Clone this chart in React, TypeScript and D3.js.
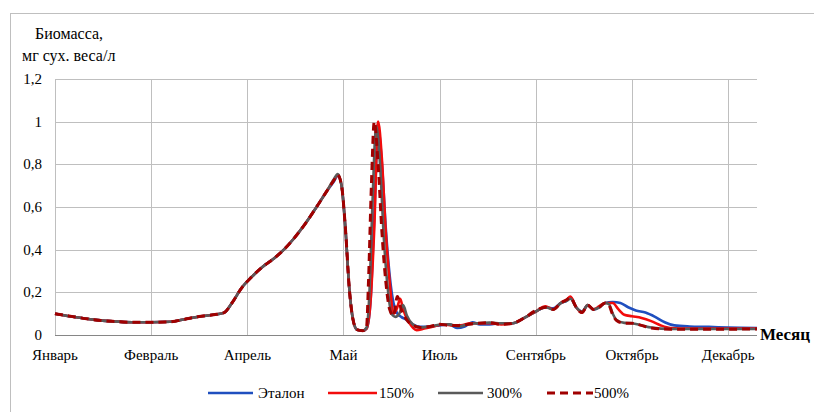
import React from "react";
import * as d3 from "d3";

const monthLabels = ["Январь", "Февраль", "Апрель", "Май", "Июль", "Сентябрь", "Октябрь", "Декабрь"];
const monthTickDays = [0, 50, 100, 150, 200, 250, 300, 350];
const yTicks = [0, 0.2, 0.4, 0.6, 0.8, 1, 1.2];

const etalon: [number, number][] = [
  [0, 0.1], [10, 0.085], [20, 0.072], [30, 0.064], [40, 0.06], [50, 0.06], [60, 0.062], [68, 0.075], [76, 0.088], [84, 0.097],
  [88, 0.105], [92, 0.15], [97, 0.22], [102, 0.27], [108, 0.32], [114, 0.36], [119, 0.4], [124, 0.45], [130, 0.52], [136, 0.6],
  [141, 0.67], [145, 0.72], [147, 0.745], [149, 0.7], [151, 0.5], [153, 0.22], [155, 0.07], [157, 0.025], [160, 0.02], [162, 0.03],
  [164, 0.15], [166, 0.55], [168, 0.97], [170, 0.8], [172, 0.5], [174, 0.28], [176, 0.15], [178, 0.1], [180, 0.085], [183, 0.07],
  [186, 0.05], [190, 0.038], [195, 0.04], [200, 0.045], [205, 0.05], [209, 0.033], [213, 0.04], [217, 0.06], [221, 0.05], [226, 0.05],
  [232, 0.055], [238, 0.055], [244, 0.08], [250, 0.11], [255, 0.13], [259, 0.125], [263, 0.15], [266, 0.16], [268, 0.175], [271, 0.13],
  [274, 0.11], [277, 0.14], [280, 0.12], [283, 0.13], [286, 0.15], [290, 0.155], [294, 0.15], [298, 0.13], [302, 0.115], [307, 0.105],
  [312, 0.085], [317, 0.06], [322, 0.045], [330, 0.04], [340, 0.038], [350, 0.035], [365, 0.033],
];

const pct150: [number, number][] = [
  [0, 0.1], [10, 0.085], [20, 0.072], [30, 0.064], [40, 0.06], [50, 0.06], [60, 0.062], [68, 0.075], [76, 0.088], [84, 0.097],
  [88, 0.105], [92, 0.15], [97, 0.22], [102, 0.27], [108, 0.32], [114, 0.36], [119, 0.4], [124, 0.45], [130, 0.52], [136, 0.6],
  [141, 0.67], [145, 0.725], [147, 0.75], [149, 0.7], [151, 0.5], [153, 0.22], [155, 0.07], [157, 0.025], [160, 0.02], [162, 0.03],
  [164, 0.15], [166, 0.5], [168, 1.0], [170, 0.82], [172, 0.48], [174, 0.25], [176, 0.1], [178, 0.13], [179.5, 0.17], [181, 0.12],
  [184, 0.06], [188, 0.023], [192, 0.03], [197, 0.04], [202, 0.05], [207, 0.045], [211, 0.045], [216, 0.055], [221, 0.055], [226, 0.055],
  [232, 0.05], [238, 0.055], [244, 0.08], [250, 0.11], [255, 0.135], [259, 0.12], [263, 0.15], [266, 0.165], [268, 0.18], [271, 0.13],
  [274, 0.105], [277, 0.14], [280, 0.12], [283, 0.135], [286, 0.15], [290, 0.15], [293, 0.12], [296, 0.095], [300, 0.088], [305, 0.08],
  [310, 0.065], [315, 0.045], [320, 0.033], [330, 0.03], [345, 0.03], [365, 0.03],
];

const pct300: [number, number][] = [
  [0, 0.1], [10, 0.085], [20, 0.072], [30, 0.064], [40, 0.06], [50, 0.06], [60, 0.062], [68, 0.075], [76, 0.088], [84, 0.097],
  [88, 0.105], [92, 0.15], [97, 0.22], [102, 0.27], [108, 0.32], [114, 0.36], [119, 0.4], [124, 0.45], [130, 0.52], [136, 0.6],
  [141, 0.67], [145, 0.73], [147, 0.755], [149, 0.7], [151, 0.5], [153, 0.22], [155, 0.07], [157, 0.025], [160, 0.02], [162, 0.035],
  [163.5, 0.2], [165, 0.6], [167, 0.98], [169, 0.8], [171, 0.45], [173, 0.22], [175, 0.1], [177, 0.085], [179, 0.1], [181, 0.14],
  [183, 0.09], [186, 0.05], [190, 0.035], [195, 0.04], [200, 0.048], [205, 0.05], [210, 0.04], [215, 0.05], [220, 0.055], [226, 0.058],
  [232, 0.055], [238, 0.055], [244, 0.08], [250, 0.11], [255, 0.13], [259, 0.12], [263, 0.15], [266, 0.16], [268, 0.17], [271, 0.13],
  [274, 0.11], [277, 0.14], [280, 0.12], [283, 0.13], [286, 0.15], [288, 0.145], [290, 0.1], [292, 0.07], [296, 0.057], [300, 0.055],
  [305, 0.045], [310, 0.035], [320, 0.028], [340, 0.028], [365, 0.028],
];

const pct500: [number, number][] = [
  [0, 0.1], [10, 0.085], [20, 0.072], [30, 0.064], [40, 0.06], [50, 0.06], [60, 0.062], [68, 0.075], [76, 0.088], [84, 0.097],
  [88, 0.105], [92, 0.15], [97, 0.22], [102, 0.27], [108, 0.32], [114, 0.36], [119, 0.4], [124, 0.45], [130, 0.52], [136, 0.6],
  [141, 0.67], [145, 0.725], [147, 0.75], [149, 0.7], [151, 0.5], [153, 0.22], [155, 0.07], [157, 0.025], [160, 0.02], [162, 0.04],
  [163, 0.25], [164.5, 0.7], [166, 1.0], [168, 0.8], [170, 0.48], [172, 0.25], [174, 0.12], [176, 0.09], [178, 0.18], [180, 0.12],
  [183, 0.07], [186, 0.045], [190, 0.035], [195, 0.04], [200, 0.05], [205, 0.045], [210, 0.045], [215, 0.05], [220, 0.055], [226, 0.058],
  [232, 0.05], [238, 0.055], [244, 0.08], [250, 0.115], [255, 0.13], [259, 0.12], [263, 0.15], [266, 0.165], [268, 0.175], [271, 0.13],
  [274, 0.105], [277, 0.14], [280, 0.12], [283, 0.13], [286, 0.15], [288, 0.14], [290, 0.095], [292, 0.068], [296, 0.055], [300, 0.055],
  [305, 0.045], [310, 0.033], [320, 0.027], [340, 0.027], [365, 0.028],
];

const seriesNames = ["Эталон", "150%", "300%", "500%"];
const seriesData = [etalon, pct150, pct300, pct500];
const seriesColors = ["#1F4FBF", "#F20C0C", "#5A5A5A", "#A00000"];
const seriesDash = [null, null, null, "8,5"];

const FONT = '"Liberation Serif", "Times New Roman", Tinos, serif';

export default function App() {
  const W = 814;
  const H = 412;
  const left = 55, right = 757, top = 79, bottom = 335;
  const x = d3.scaleLinear().domain([0, 365]).range([left, right]);
  const y = d3.scaleLinear().domain([0, 1.2]).range([bottom, top]);
  const line = d3
    .line<[number, number]>()
    .x((d) => x(d[0]))
    .y((d) => y(d[1]))
    .curve(d3.curveMonotoneX);
  const fmt = (v: number) => (v === 0 ? "0" : v === 1 ? "1" : String(+v.toFixed(1)).replace(".", ","));
  const ts = { fontFamily: FONT } as React.CSSProperties;
  const legendItems = [
    { lx1: 208, lx2: 253, tx: 258 },
    { lx1: 328, lx2: 377, tx: 379 },
    { lx1: 438, lx2: 483, tx: 487 },
    { lx1: 547, lx2: 593, tx: 594 },
  ];
  return (
    <svg
      width={W}
      height={H}
      style={{ position: "absolute", left: 0, top: 0, background: "#fff", fontFamily: FONT }}
    >
      <rect x={10.5} y={13.5} width={W + 20} height={H + 20} fill="#fff" stroke="#BFBFBF" strokeWidth={1} />
      {yTicks.filter((t) => t > 0).map((t) => (
        <line key={"gy" + t} x1={left} x2={right} y1={Math.round(y(t)) + 0.5} y2={Math.round(y(t)) + 0.5} stroke="#BFBFBF" strokeWidth={1} />
      ))}
      {monthTickDays.map((d) => (
        <line key={"gx" + d} x1={Math.round(x(d)) + 0.5} x2={Math.round(x(d)) + 0.5} y1={top} y2={bottom} stroke="#BFBFBF" strokeWidth={1} />
      ))}
      <line x1={left} x2={right} y1={bottom + 0.5} y2={bottom + 0.5} stroke="#868686" strokeWidth={1.2} />
      {yTicks.map((t) => (
        <text key={"ty" + t} style={ts} x={42} y={y(t)} textAnchor="end" dominantBaseline="central" fontSize={15} fill="#000">
          {fmt(t)}
        </text>
      ))}
      {monthLabels.map((m, i) => (
        <text key={m} style={ts} x={x(monthTickDays[i])} y={360} textAnchor="middle" fontSize={15} fill="#000">
          {m}
        </text>
      ))}
      <text style={ts} x={35} y={39} fontSize={16} fill="#000">Биомасса,</text>
      <text style={ts} x={22} y={61} fontSize={16} fill="#000">мг сух. веса/л</text>
      <text style={ts} x={760} y={340} fontSize={17} fontWeight="bold" fill="#000">Месяц</text>
      {seriesData.map((s, i) => (
        <path
          key={seriesNames[i]}
          d={line(s) || ""}
          fill="none"
          stroke={seriesColors[i]}
          strokeWidth={i === 3 ? 3 : 2.6}
          strokeDasharray={seriesDash[i] || undefined}
          strokeLinejoin="round"
        />
      ))}
      {seriesNames.map((n, i) => (
        <g key={"lg" + n}>
          <line
            x1={legendItems[i].lx1}
            x2={legendItems[i].lx2}
            y1={393}
            y2={393}
            stroke={seriesColors[i]}
            strokeWidth={i === 3 ? 3 : 2.6}
            strokeDasharray={seriesDash[i] || undefined}
          />
          <text style={ts} x={legendItems[i].tx} y={393} dominantBaseline="central" fontSize={15} fill="#000">
            {n}
          </text>
        </g>
      ))}
    </svg>
  );
}
